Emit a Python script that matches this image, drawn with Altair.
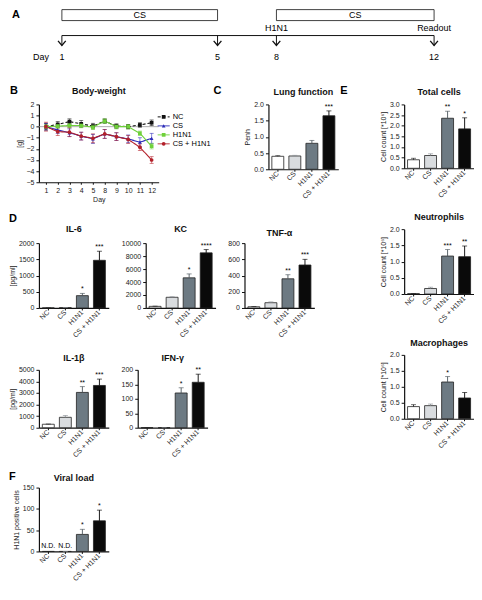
import altair as alt
import pandas as pd

FONT = "Liberation Sans"

# ---------------- data ----------------
groups = ["NC", "CS", "H1N1", "CS + H1N1"]
bar_fills = ["#ffffff", "#d9dcdf", "#6d7a83", "#0a0a0a"]
err_colors = ["#222222", "#8a9096", "#4b555c", "#000000"]

# Panel A (timeline)
tl_days = [1, 5, 8, 12]
tl_events = ["", "", "H1N1", "Readout"]
cs_start = [1, 8]
cs_end = [5, 12]
cs_label = ["CS", "CS"]

# Panel B (body weight)
bw_days = ["1", "2", "3", "4", "5", "8", "9", "10", "11", "12"]
bw_series = ["NC", "CS", "H1N1", "CS + H1N1"]
bw_colors = ["#111111", "#2b2bb8", "#6fd13a", "#b3202a"]
bw_shapes = ["square", "triangle-up", "square", "circle"]
bw_nc = [0.0, 0.2, 0.45, 0.25, 0.05, 0.5, 0.05, 0.0, 0.15, 0.35]
bw_nc_err = [0.3, 0.25, 0.25, 0.3, 0.25, 0.2, 0.2, 0.2, 0.2, 0.25]
bw_cs = [0.0, -0.3, -0.55, -0.85, -1.1, -0.65, -0.9, -1.1, -1.4, -1.05]
bw_cs_err = [0.3, 0.3, 0.35, 0.35, 0.4, 0.4, 0.35, 0.35, 0.4, 0.45]
bw_h1 = [0.0, 0.05, 0.1, 0.1, -0.05, 0.5, 0.0, 0.0, -0.6, -1.75]
bw_h1_err = [0.15, 0.2, 0.2, 0.2, 0.2, 0.2, 0.2, 0.2, 0.2, 0.25]
bw_csh1 = [0.0, -0.45, -0.5, -0.85, -1.05, -0.65, -0.9, -1.15, -1.85, -3.0]
bw_csh1_err = [0.4, 0.35, 0.4, 0.35, 0.4, 0.4, 0.35, 0.35, 0.3, 0.3]

# Panel C (lung function)
penh = [0.40, 0.41, 0.80, 1.65]
penh_err = [0.02, 0.02, 0.09, 0.15]
penh_sig = ["", "", "", "***"]

# Panel D (cytokines)
il6 = [2, 10, 380, 1470]
il6_err = [2, 4, 70, 280]
il6_sig = ["", "", "*", "***"]
kc = [250, 1650, 4650, 8500]
kc_err = [30, 80, 600, 500]
kc_sig = ["", "", "*", "****"]
tnf = [15, 65, 360, 530]
tnf_err = [3, 10, 50, 70]
tnf_sig = ["", "", "**", "***"]
il1b = [300, 900, 3050, 3650]
il1b_err = [20, 150, 500, 550]
il1b_sig = ["", "", "**", "***"]
ifng = [0, 0, 120, 157]
ifng_err = [0, 0, 18, 28]
ifng_sig = ["", "", "*", "**"]

# Panel E (BAL cells, *10^6)
total = [0.40, 0.60, 2.35, 1.85]
total_err = [0.07, 0.08, 0.33, 0.52]
total_sig = ["", "", "**", "*"]
neut = [0.01, 0.17, 1.17, 1.15]
neut_err = [0.005, 0.04, 0.2, 0.33]
neut_sig = ["", "", "***", "**"]
macro = [0.38, 0.41, 1.15, 0.65]
macro_err = [0.06, 0.05, 0.17, 0.17]
macro_sig = ["", "", "*", ""]

# Panel F (viral load)
viral = [0, 0, 40, 72]
viral_err = [0, 0, 12, 25]
viral_sig = ["", "", "*", "*"]
viral_nd = ["N.D.", "N.D.", "", ""]


# ---------------- helpers ----------------
def title_layer(text, width, dy=-12):
    return alt.Chart(pd.DataFrame({"t": [text]})).mark_text(
        font=FONT, fontSize=9, fontWeight="bold", align="center", baseline="middle", color="#111"
    ).encode(x=alt.value(width / 2), y=alt.value(dy), text="t:N")


def letter_layer(letter, dx, dy):
    return alt.Chart(pd.DataFrame({"letter": [letter]})).mark_text(
        font=FONT, fontSize=11, fontWeight="bold", align="left", baseline="middle"
    ).encode(x=alt.value(dx), y=alt.value(dy), text="letter:N")


def bar_panel(name, means, errs, sig, dom_max, ticks, fmt, ytitle=None,
              width=70, height=65, letter=None, lpos=(-30, -12), nd=None, tdy=-12):
    df = pd.DataFrame({"group": groups, "mean": means, "err": errs, "sig": sig,
                       "nd": nd if nd else [""] * 4})
    df["top"] = df["mean"] + df["err"]
    X = alt.X("group:N", sort=groups, title=None,
              scale=alt.Scale(paddingInner=0.3, paddingOuter=0.2),
              axis=alt.Axis(labelAngle=315, labelAlign="right", labelBaseline="middle",
                            tickSize=2, labelPadding=1, domainWidth=1.2))
    ys = alt.Scale(domain=[0, dom_max], nice=False)
    yaxis = alt.Axis(values=ticks, format=fmt, title=ytitle, domainWidth=1.2)
    base = alt.Chart(df)
    bars = base.mark_bar(stroke="#222", strokeWidth=0.8).encode(
        x=X, y=alt.Y("mean:Q", scale=ys, axis=yaxis),
        fill=alt.Fill("group:N", scale=alt.Scale(domain=groups, range=bar_fills), legend=None))
    ecol = alt.Color("group:N", scale=alt.Scale(domain=groups, range=err_colors), legend=None)
    rule = base.mark_rule(strokeWidth=0.9).encode(
        x=X, y=alt.Y("mean:Q", scale=ys, axis=yaxis), y2="top:Q", color=ecol)
    cap = base.mark_tick(size=5, thickness=0.9).encode(
        x=X, y=alt.Y("top:Q", scale=ys, axis=yaxis), color=ecol)
    stars = base.mark_text(font=FONT, fontSize=7, baseline="bottom", dy=-1).encode(
        x=X, y=alt.Y("top:Q", scale=ys, axis=yaxis), text="sig:N")
    layers = [bars, rule, cap, stars]
    if nd:
        layers.append(base.mark_text(font=FONT, fontSize=7, baseline="bottom", dy=-2).encode(
            x=X, y=alt.Y("mean:Q", scale=ys, axis=yaxis), text="nd:N"))
    layers.append(title_layer(name, width, tdy))
    if letter:
        layers.append(letter_layer(letter, lpos[0], lpos[1]))
    return alt.layer(*layers).properties(width=width, height=height)


# ---------------- panel A ----------------
tl = pd.DataFrame({"day": tl_days, "event": tl_events})
boxes = pd.DataFrame({"start": cs_start, "end": cs_end, "label": cs_label})
xA = alt.Scale(domain=tl_days, range=[23, 179, 238, 396])
XA = alt.X("day:Q", scale=xA, axis=None)
a_box = alt.Chart(boxes).mark_rect(fill="white", stroke="#111", strokeWidth=0.8).encode(
    x=alt.X("start:Q", scale=xA, axis=None), x2="end:Q", y=alt.value(0), y2=alt.value(11))
a_boxtxt = alt.Chart(boxes).transform_calculate(mid="(datum.start + datum.end) / 2").mark_text(
    font=FONT, fontSize=9, baseline="middle").encode(
    x=alt.X("mid:Q", scale=xA, axis=None), y=alt.value(5.5), text="label:N")
a_line = alt.Chart(tl).mark_rule(color="#111", strokeWidth=1).encode(
    x=alt.X("min(day):Q", scale=xA, axis=None), x2="max(day):Q", y=alt.value(26))
a_shaft = alt.Chart(tl).mark_rule(color="#111", strokeWidth=1).encode(
    x=XA, y=alt.value(26), y2=alt.value(36))
a_head = alt.Chart(tl).mark_point(shape="M-1,-1.2L0,0L1,-1.2", filled=False, size=60,
                                  strokeWidth=1.3, color="#111", opacity=1).encode(
    x=XA, y=alt.value(36))
a_days = alt.Chart(tl).mark_text(font=FONT, fontSize=9, baseline="middle").encode(
    x=XA, y=alt.value(47), text="day:Q")
a_ev = alt.Chart(tl).mark_text(font=FONT, fontSize=9, baseline="bottom").encode(
    x=XA, y=alt.value(23), text="event:N")
a_daylbl = alt.Chart(pd.DataFrame({"t": ["Day"]})).mark_text(
    font=FONT, fontSize=9, baseline="middle", align="left").encode(
    x=alt.value(-6), y=alt.value(47), text="t:N")
panelA = alt.layer(a_box, a_boxtxt, a_line, a_shaft, a_head, a_days, a_ev, a_daylbl,
                   letter_layer("A", -27, 5)).properties(width=410, height=52)

# ---------------- panel B ----------------
rows = []
for s, m, e in [("NC", bw_nc, bw_nc_err), ("CS", bw_cs, bw_cs_err),
                ("H1N1", bw_h1, bw_h1_err), ("CS + H1N1", bw_csh1, bw_csh1_err)]:
    for d, mv, ev in zip(bw_days, m, e):
        rows.append({"day": d, "series": s, "mean": mv, "low": mv - ev, "high": mv + ev})
bw = pd.DataFrame(rows)
ysB = alt.Scale(domain=[-5, 2], nice=False)
yaxB = alt.Axis(values=[-5, -4, -3, -2, -1, 0, 1, 2], title="[g]", domainWidth=1.2)
XB = alt.X("day:O", sort=bw_days, scale=alt.Scale(type="point", padding=0.6),
           axis=alt.Axis(title="Day", labelAngle=0, tickSize=2, titlePadding=2, domainWidth=1.2))
colB = alt.Color("series:N", scale=alt.Scale(domain=bw_series, range=bw_colors), legend=None)
dashB = alt.StrokeDash("series:N", scale=alt.Scale(domain=bw_series, range=[[3, 2], [1, 0], [1, 0], [1, 0]]),
                       legend=None)
shapeB = alt.Shape("series:N", scale=alt.Scale(domain=bw_series, range=bw_shapes), legend=None)
baseB = alt.Chart(bw)
b_zero = alt.Chart(pd.DataFrame({"zero": [0]})).mark_rule(color="#9a9a9a", strokeWidth=0.8).encode(
    y=alt.Y("zero:Q", scale=ysB, axis=yaxB))
b_err = baseB.mark_rule(strokeWidth=0.8, opacity=0.7).encode(
    x=XB, y=alt.Y("low:Q", scale=ysB, axis=yaxB), y2="high:Q", color=colB)
b_cap1 = baseB.mark_tick(size=4, thickness=0.8, opacity=0.7).encode(
    x=XB, y=alt.Y("low:Q", scale=ysB, axis=yaxB), color=colB)
b_cap2 = baseB.mark_tick(size=4, thickness=0.8, opacity=0.7).encode(
    x=XB, y=alt.Y("high:Q", scale=ysB, axis=yaxB), color=colB)
b_line = baseB.mark_line(strokeWidth=1.1).encode(
    x=XB, y=alt.Y("mean:Q", scale=ysB, axis=yaxB), color=colB, strokeDash=dashB)
b_pts = baseB.mark_point(filled=True, size=14, opacity=1).encode(
    x=XB, y=alt.Y("mean:Q", scale=ysB, axis=yaxB), color=colB, shape=shapeB)
b_main = alt.layer(b_zero, b_err, b_cap1, b_cap2, b_line, b_pts)

leg = alt.Chart(pd.DataFrame({"series": bw_series}))
YL = alt.Y("series:N", sort=bw_series, axis=None, scale=alt.Scale(type="point", range=[8, 44]))
l_rule = leg.mark_rule(strokeWidth=1).encode(
    x=alt.value(119), x2=alt.value(131), y=YL, color=colB, strokeDash=dashB)
l_pt = leg.mark_point(filled=True, size=14, opacity=1).encode(
    x=alt.value(125), y=YL, color=colB, shape=shapeB)
l_txt = leg.mark_text(font=FONT, fontSize=7.5, align="left", baseline="middle").encode(
    x=alt.value(134), y=YL, text="series:N")
b_leg = alt.layer(l_rule, l_pt, l_txt)
panelB = alt.layer(b_main, b_leg, title_layer("Body-weight", 120, -13),
                   letter_layer("B", -29, -13)).resolve_scale(
    y="independent").properties(width=120, height=78)

# ---------------- panel C ----------------
panelC = bar_panel("Lung function", penh, penh_err, penh_sig, 2.0, [0, 0.5, 1.0, 1.5, 2.0], ".1f",
                   ytitle="Penh", letter="C", lpos=(-55, -13), height=65)

# ---------------- panel D ----------------
pIL6 = bar_panel("IL-6", il6, il6_err, il6_sig, 2000, [0, 500, 1000, 1500, 2000], "d",
                 ytitle="[pg/ml]", letter="D", lpos=(-30, -24), tdy=-14)
pKC = bar_panel("KC", kc, kc_err, kc_sig, 10000, [0, 2000, 4000, 6000, 8000, 10000], "d", tdy=-14)
pTNF = bar_panel("TNF-α", tnf, tnf_err, tnf_sig, 800, [0, 200, 400, 600, 800], "d", tdy=-10)
pIL1b = bar_panel("IL-1β", il1b, il1b_err, il1b_sig, 5000, [0, 1000, 2000, 3000, 4000, 5000], "d",
                  ytitle="[pg/ml]", height=58)
pIFN = bar_panel("IFN-γ", ifng, ifng_err, ifng_sig, 200, [0, 50, 100, 150, 200], "d", height=58)

# ---------------- panel E ----------------
ctitle = "Cell count [*10⁶]"
pTot = bar_panel("Total cells", total, total_err, total_sig, 3.0, [0, 0.5, 1.0, 1.5, 2.0, 2.5, 3.0], ".1f",
                 ytitle=ctitle, letter="E", lpos=(-64, -13), width=70, height=64)
pNeu = bar_panel("Neutrophils", neut, neut_err, neut_sig, 2.0, [0, 0.5, 1.0, 1.5, 2.0], ".1f",
                 ytitle=ctitle, width=70)
pMac = bar_panel("Macrophages", macro, macro_err, macro_sig, 2.0, [0, 0.5, 1.0, 1.5, 2.0], ".1f",
                 ytitle=ctitle, width=70, height=64)

# ---------------- panel F ----------------
pF = bar_panel("Viral load", viral, viral_err, viral_sig, 150, [0, 50, 100, 150], "d",
               ytitle="H1N1 positive cells", letter="F", lpos=(-30, -11), nd=viral_nd,
               height=64, tdy=-10)

# ---------------- layout ----------------
IND = dict(color="independent", fill="independent", shape="independent", strokeDash="independent")
rowB = alt.hconcat(panelB, panelC, spacing=2).resolve_scale(**IND)
rowD1 = alt.hconcat(pIL6, pKC, pTNF, spacing=12).resolve_scale(**IND)
rowD2 = alt.hconcat(pIL1b, pIFN, spacing=12).resolve_scale(**IND)
rowsD = alt.vconcat(rowD1, rowD2, spacing=15).resolve_scale(**IND)
left = alt.vconcat(rowB, rowsD, spacing=11).resolve_scale(**IND)
right = alt.vconcat(pTot, pNeu, pMac, spacing=14).resolve_scale(**IND)
mid = alt.hconcat(left, right, spacing=2).resolve_scale(**IND)
upper = alt.vconcat(panelA, mid, spacing=24).resolve_scale(**IND)

chart = alt.vconcat(upper, pF, spacing=12).resolve_scale(**IND).properties(
    padding={"left": 0, "top": 0, "right": 0, "bottom": 0}
).configure_axis(
    labelFont=FONT, titleFont=FONT, labelFontSize=7, titleFontSize=7, titleFontWeight="normal",
    labelColor="#222", titleColor="#222", domainColor="#111", tickColor="#111",
    grid=False, tickSize=3, titlePadding=3
).configure_view(strokeWidth=0)

chart.save("out.html", embed_options={"renderer": "svg", "actions": False})
